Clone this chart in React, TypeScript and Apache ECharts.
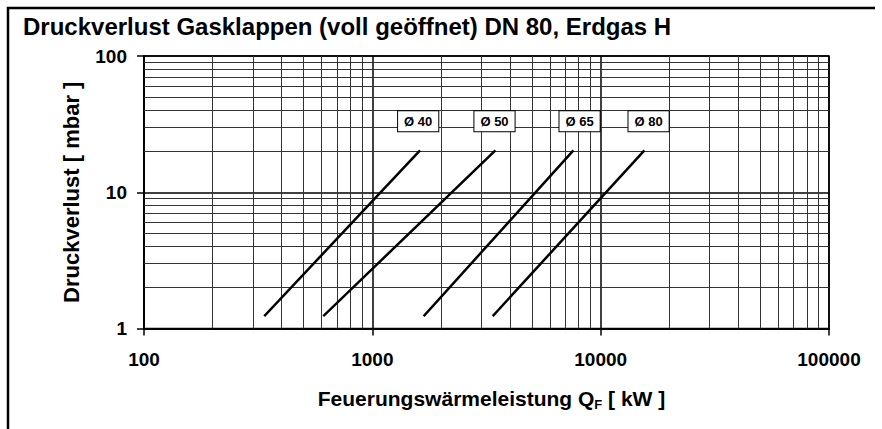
import React, { useEffect, useRef } from "react";
import * as echarts from "echarts";

// ---- data ----
const pipeLabels = ["Ø 40", "Ø 50", "Ø 65", "Ø 80"];
const loadLow = [339, 615, 1692, 3394]; // kW at lower end
const loadHigh = [1604, 3428, 7534, 15415]; // kW at upper end
const pressureLow = [1.25, 1.25, 1.25, 1.25]; // mbar
const pressureHigh = [20, 20, 20, 20]; // mbar

const xMinorGrid = [200, 300, 400, 500, 600, 700, 800, 900, 2000, 3000, 4000, 5000, 6000, 7000, 8000, 9000, 20000, 30000, 40000, 50000, 60000, 70000, 80000, 90000];
const yMinorGrid = [2, 3, 4, 5, 6, 7, 8, 9, 20, 30, 40, 50, 60, 70, 80, 90];

// ---- layout / style ----
const FONT = "'Liberation Sans', Arial, Helvetica, sans-serif";
const labelOffsets = [[-1, 0], [0, 0], [7, 0], [5, 0]];

export default function App() {
  const ref = useRef<HTMLDivElement>(null);
  useEffect(() => {
    if (!ref.current) return;
    const chart = echarts.init(ref.current, null, { renderer: "svg" });
    const gridSeries: any = {
      type: "line",
      data: [],
      silent: true,
      z: 1,
      markLine: {
        silent: true,
        symbol: "none",
        label: { show: false },
        lineStyle: { color: "#333", width: 1, type: "solid" },
        emphasis: { disabled: true },
        data: [
          ...xMinorGrid.map((v) => ({ xAxis: v })),
          ...yMinorGrid.map((v) => ({ yAxis: v })),
        ],
      },
    };
    const dataSeries = pipeLabels.map((name, i) => ({
      type: "line",
      name,
      z: 5,
      symbol: "none",
      showSymbol: false,
      silent: true,
      lineStyle: { color: "#000", width: 2.5, cap: "square" },
      data: [
        [loadLow[i], pressureLow[i]],
        [loadHigh[i], pressureHigh[i]],
      ],
      markPoint: {
        silent: true,
        symbol: "circle",
        symbolSize: 0,
        data: [{ coord: [loadHigh[i], pressureHigh[i]] }],
        label: {
          show: true,
          formatter: name,
          position: "top",
          distance: 20,
          offset: labelOffsets[i],
          backgroundColor: "#fff",
          borderColor: "#000",
          borderWidth: 1,
          padding: [4, 6, 3, 6],
          color: "#000",
          fontFamily: FONT,
          fontWeight: "bold",
          fontSize: 13,
        },
      },
    }));
    const option: any = {
      animation: false,
      backgroundColor: "#fff",
      title: {
        text: "Druckverlust Gasklappen (voll geöffnet) DN 80, Erdgas H",
        left: 23,
        top: 14,
        padding: 0,
        textStyle: { fontFamily: FONT, fontSize: 24, fontWeight: "bold", color: "#000" },
      },
      grid: {
        left: 144,
        top: 56,
        right: 53,
        bottom: 100.5,
        show: true,
        borderColor: "#000",
        borderWidth: 1.5,
        backgroundColor: "transparent",
      },
      xAxis: {
        type: "log",
        logBase: 10,
        min: 100,
        max: 100000,
        axisLine: { show: true, onZero: false, lineStyle: { color: "#000", width: 2 } },
        axisTick: { show: true, length: 7, lineStyle: { color: "#000", width: 1.5 } },
        axisLabel: {
          margin: 21,
          color: "#000",
          fontFamily: FONT,
          fontWeight: "bold",
          fontSize: 19,
          formatter: (v: number) => String(Math.round(v)),
        },
        splitLine: { show: true, lineStyle: { color: "#000", width: 1.5 } },
        name: "{a|Feuerungswärmeleistung Q}{s|F}{a| [ kW ]}",
        nameLocation: "middle",
        nameGap: 57,
        nameTextStyle: {
          padding: [0, 0, 0, 10],
          rich: {
            a: { fontFamily: FONT, fontWeight: "bold", fontSize: 21, color: "#000", lineHeight: 25 },
            s: { fontFamily: FONT, fontWeight: "bold", fontSize: 13, color: "#000", lineHeight: 15, verticalAlign: "bottom" },
          },
        },
      },
      yAxis: {
        type: "log",
        logBase: 10,
        min: 1,
        max: 100,
        axisLine: { show: true, onZero: false, lineStyle: { color: "#000", width: 2 } },
        axisTick: { show: true, length: 7, lineStyle: { color: "#000", width: 1.5 } },
        axisLabel: {
          margin: 17,
          color: "#000",
          fontFamily: FONT,
          fontWeight: "bold",
          fontSize: 19,
          formatter: (v: number) => String(Math.round(v)),
        },
        splitLine: { show: true, lineStyle: { color: "#000", width: 1.5 } },
        name: "Druckverlust [ mbar ]",
        nameLocation: "middle",
        nameGap: 62,
        nameTextStyle: { fontFamily: FONT, fontWeight: "bold", fontSize: 22, color: "#000" },
      },
      graphic: [
        {
          type: "polyline",
          silent: true,
          shape: { points: [[8, 429], [8, 8], [875, 8]] },
          style: { stroke: "#000", lineWidth: 2.5, fill: "none" },
        },
      ],
      series: [gridSeries, ...dataSeries],
    };
    chart.setOption(option);
    return () => chart.dispose();
  }, []);
  return (
    <div
      ref={ref}
      style={{ position: "absolute", left: 0, top: 0, width: 882, height: 429 }}
    />
  );
}
